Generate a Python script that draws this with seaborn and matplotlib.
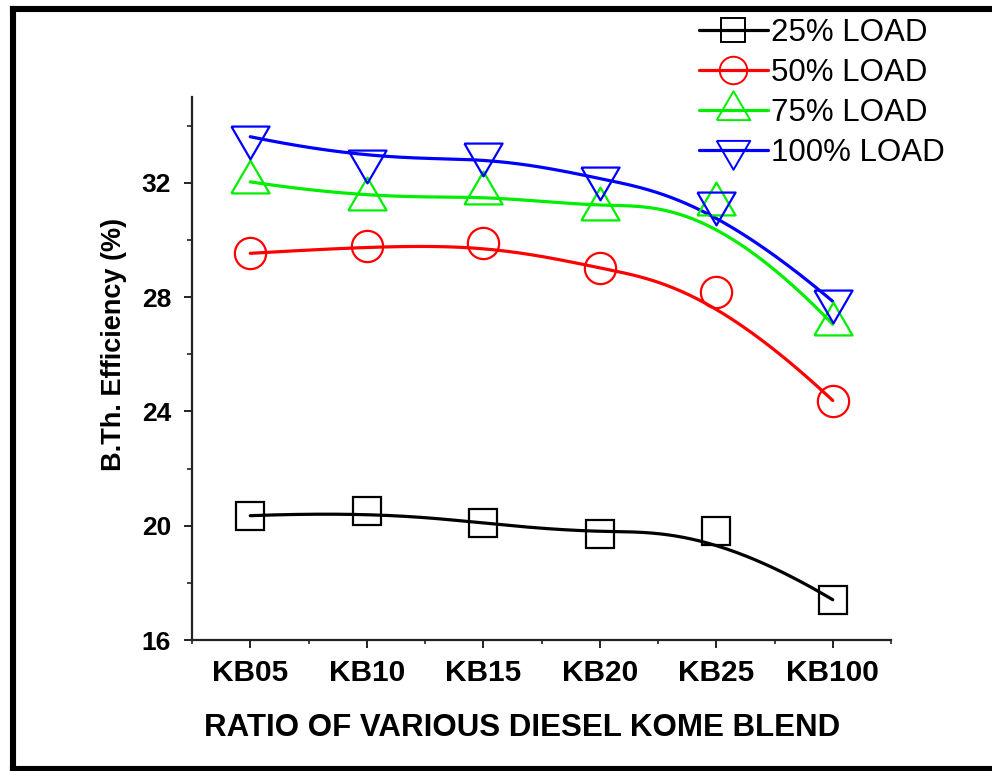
import numpy as np
import pandas as pd
import matplotlib
matplotlib.use("Agg")
import matplotlib.pyplot as plt
from matplotlib.lines import Line2D
from matplotlib.ticker import FixedLocator
import seaborn as sns

# Brake thermal efficiency (%) for each diesel / KOME blend
blends = ["KB05", "KB10", "KB15", "KB20", "KB25", "KB100"]
load_25 = [20.35, 20.50, 20.09, 19.70, 19.83, 17.41]
load_50 = [29.53, 29.77, 29.89, 29.01, 28.19, 24.38]
load_75 = [32.03, 31.42, 31.63, 31.07, 31.26, 27.05]
load_100 = [33.61, 32.77, 33.00, 32.15, 31.29, 27.85]
series_labels = ["25% LOAD", "50% LOAD", "75% LOAD", "100% LOAD"]
series_values = [load_25, load_50, load_75, load_100]
series_colors = ["#000000", "#ff0000", "#00ee00", "#0000ff"]

# triangles are anchored on their centroid
tri_up = [(-1, -0.573), (1, -0.573), (0, 1.147), (-1, -0.573)]
tri_down = [(-1, 0.573), (1, 0.573), (0, -1.147), (-1, 0.573)]
series_markers = ["s", "o", tri_up, tri_down]
marker_sizes = [20, 22.5, 31.5, 31.5]


def bspline_curve(xs, ys, n=300, k=3):
    """Clamped uniform cubic B-spline using the data points as control points."""
    P = np.column_stack([xs, ys]).astype(float)
    m = len(P)
    knots = np.concatenate([np.zeros(k), np.linspace(0, 1, m - k + 1), np.ones(k)])
    t = np.linspace(0, 1, n)
    t[-1] -= 1e-9

    def basis(i, d):
        if d == 0:
            return ((knots[i] <= t) & (t < knots[i + 1])).astype(float)
        out = np.zeros_like(t)
        den1 = knots[i + d] - knots[i]
        den2 = knots[i + d + 1] - knots[i + 1]
        if den1 > 0:
            out += (t - knots[i]) / den1 * basis(i, d - 1)
        if den2 > 0:
            out += (knots[i + d + 1] - t) / den2 * basis(i + 1, d - 1)
        return out

    B = np.column_stack([basis(i, k) for i in range(m)])
    C = B @ P
    return C[:, 0], C[:, 1]


sns.set_style("ticks")
plt.rcParams["font.family"] = ["Liberation Sans", "DejaVu Sans"]
plt.rcParams["text.color"] = "black"
plt.rcParams["axes.labelcolor"] = "black"
plt.rcParams["xtick.color"] = "black"
plt.rcParams["ytick.color"] = "black"

fig = plt.figure(figsize=(9.92, 7.71), dpi=100)
ax = fig.add_axes([192 / 992, 131 / 771, 699 / 992, 543 / 771])

positions = np.arange(len(blends))

# smooth connecting curves
rows = []
for lab, vals in zip(series_labels, series_values):
    cx, cy = bspline_curve(positions, vals)
    rows.append(pd.DataFrame({"x": cx, "y": cy, "load": lab}))
curves = pd.concat(rows, ignore_index=True)
sns.lineplot(data=curves, x="x", y="y", hue="load", palette=dict(zip(series_labels, series_colors)),
             sort=False, estimator=None, units="load", legend=False, lw=2.3, ax=ax)

# hollow markers at the measured points
for lab, vals, col, mk, ms in zip(series_labels, series_values, series_colors, series_markers, marker_sizes):
    ax.plot(positions, vals, linestyle="none", marker=mk, ms=ms, mfc="none", mec=col, mew=1.6,
            zorder=3)

ax.set_xlim(-0.5, 5.5)
ax.set_ylim(16, 35)
ax.set_xticks(positions)
ax.set_xticklabels(blends)
ax.xaxis.set_minor_locator(FixedLocator(np.arange(-0.5, 5.6, 1.0)))
ax.yaxis.set_major_locator(FixedLocator([16, 20, 24, 28, 32]))
ax.yaxis.set_minor_locator(FixedLocator([18, 22, 26, 30, 34]))

for side in ["top", "right"]:
    ax.spines[side].set_visible(False)
for side in ["left", "bottom"]:
    ax.spines[side].set_linewidth(1.6)
    ax.spines[side].set_color("#222222")

ax.tick_params(axis="y", which="major", direction="out", length=6, width=1.4, color="#222222",
               labelsize=19, pad=9)
ax.tick_params(axis="y", which="minor", direction="out", length=3.5, width=1.2, color="#222222")
ax.tick_params(axis="x", which="major", direction="out", length=6, width=1.4, color="#222222",
               labelsize=21.5, pad=8)
ax.tick_params(axis="x", which="minor", direction="out", length=3, width=1.2, color="#222222")
for lbl in ax.get_xticklabels() + ax.get_yticklabels():
    lbl.set_fontweight("bold")

ax.set_xlabel("RATIO OF VARIOUS DIESEL KOME BLEND", fontsize=22.5, fontweight="bold")
ax.xaxis.set_label_coords((522 - 192) / 699, -(713 - 640) / 543)
ax.set_ylabel("B.Th. Efficiency (%)", fontsize=19.5, fontweight="bold")
ax.yaxis.set_label_coords(-(192 - 127) / 699, (640 - 344) / 543)
ax.set_facecolor("white")

handles = [Line2D([], [], color=c, lw=2.3, marker=m, ms=s * 0.88, mfc="none", mec=c, mew=1.4)
           for c, m, s in zip(series_colors, series_markers, marker_sizes)]
fig.legend(handles, series_labels, loc="upper left", bbox_to_anchor=(699 / 992, 1 - 18 / 771),
           frameon=False, fontsize=22.5, handlelength=2.2, handletextpad=0.1, labelspacing=0.32,
           borderpad=0, borderaxespad=0)

# heavy frame around the figure
frame_kw = dict(color="black", lw=4.4, transform=fig.transFigure, solid_capstyle="projecting")
fig.add_artist(Line2D([13 / 992, 13 / 992], [0, 1 - 9 / 771], **frame_kw))
fig.add_artist(Line2D([13 / 992, 1.0], [1 - 9 / 771, 1 - 9 / 771], **frame_kw))
fig.add_artist(Line2D([13 / 992, 1.0], [2 / 771, 2 / 771], **frame_kw))

fig.savefig("out.png", dpi=100, facecolor="white")
